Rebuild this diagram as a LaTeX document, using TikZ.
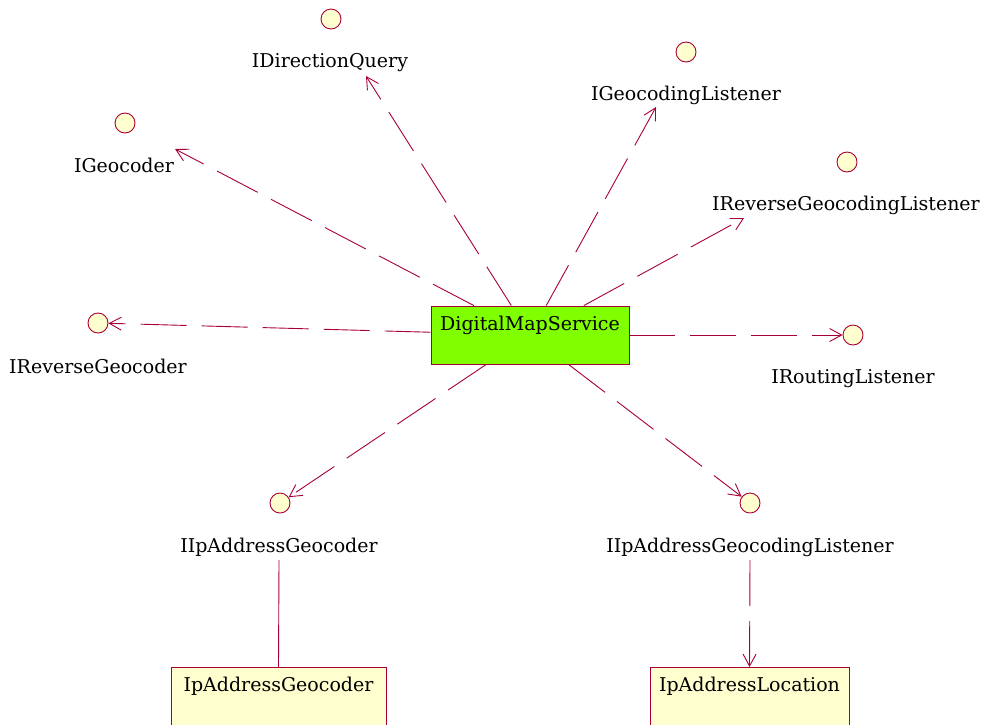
\documentclass[tikz,border=0pt]{standalone}
\usepackage{fontspec}
\setmainfont{DejaVu Serif}
\usetikzlibrary{arrows.meta}
\definecolor{umlred}{HTML}{A80036}
\definecolor{umlfill}{HTML}{FEFECE}
\definecolor{umlgreen}{HTML}{7FFF00}
\tikzset{
  iface/.style={circle,draw=umlred,fill=umlfill,line width=0.9pt,minimum size=20pt,inner sep=0pt},
  ilabel/.style={font=\fontsize{19}{21}\selectfont,inner sep=0pt,minimum height=26pt,text=black},
  boxtext/.style={font=\fontsize{19}{21}\selectfont,inner sep=0pt,text=black},
  cbox/.style={draw=umlred,line width=0.9pt,inner sep=0pt},
  dep/.style={draw=umlred,line width=0.9pt,dash pattern=on 46pt off 15pt,-{Straight Barb[length=12pt,width=13pt]}},
  solidlink/.style={draw=umlred,line width=0.9pt},
}
\begin{document}
\begin{tikzpicture}[x=1pt,y=-1pt]
\useasboundingbox (0,0) rectangle (985,724);
\clip (0,0) rectangle (985,724);

% main component
\node[cbox,fill=umlgreen,minimum width=198pt,minimum height=58pt] (dms) at (530,335) {};
\node[boxtext] (dmst) at (530,325) {DigitalMapService};

% interfaces
\node[iface] (cdq) at (331,19) {};
\node[ilabel] (ldq) at (330,63) {IDirectionQuery};
\node[iface] (cgl) at (686,52) {};
\node[ilabel] (lgl) at (686,95) {IGeocodingListener};
\node[iface] (cgeo) at (125,123) {};
\node[ilabel] (lgeo) at (124,165) {IGeocoder};
\node[iface] (crgl) at (847,162) {};
\node[ilabel] (lrgl) at (846,205) {IReverseGeocodingListener};
\node[iface] (crg) at (98,323) {};
\node[ilabel] (lrg) at (98,366) {IReverseGeocoder};
\node[iface] (crl) at (853,335) {};
\node[ilabel] (lrl) at (853,379) {IRoutingListener};
\node[iface] (cipg) at (280,503) {};
\node[ilabel] (lipg) at (279,547) {IIpAddressGeocoder};
\node[iface] (cipgl) at (750,503) {};
\node[ilabel] (lipgl) at (750,547) {IIpAddressGeocodingListener};

% bottom classes
\node[cbox,fill=umlfill,minimum width=215pt,minimum height=80pt,anchor=north] (ipgbox) at (278.5,667) {};
\node[boxtext] (ipgt) at (278.5,686) {IpAddressGeocoder};
\node[cbox,fill=umlfill,minimum width=199pt,minimum height=80pt,anchor=north] (iplbox) at (749.5,667) {};
\node[boxtext] (iplt) at (749.5,686) {IpAddressLocation};

% arrow tips near labels
\coordinate (tgeo) at (175,149);
\coordinate (tdq) at (366,76);
\coordinate (tgl) at (656,107);
\coordinate (trgl) at (744,218);

\draw[dep] (dms) -- (tgeo);
\draw[dep] (dms) -- (tdq);
\draw[dep] (dms) -- (tgl);
\draw[dep] (dms) -- (trgl);
\draw[dep] (dms) -- (crg);
\draw[dep] (dms) -- (crl);
\draw[dep] (dms) -- (cipg);
\draw[dep] (dms) -- (cipgl);

\draw[solidlink] (lipg.south) -- (ipgbox.north);
\draw[dep] (lipgl.south) -- (iplbox.north);
\end{tikzpicture}
\end{document}
